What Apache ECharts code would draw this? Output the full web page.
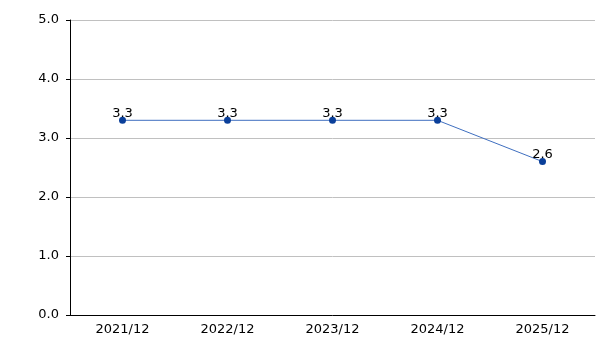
<!DOCTYPE html>
<html><head><meta charset="utf-8">
<script src="https://cdn.jsdelivr.net/npm/echarts@6/dist/echarts.min.js"></script>
<style>html,body{margin:0;padding:0;background:#fff}#c{width:615px;height:345px}</style>
</head><body><div id="c"></div>
<script>
const categories = ['2021/12','2022/12','2023/12','2024/12','2025/12'];
const values = [3.3, 3.3, 3.3, 3.3, 2.6];
const yTicks = [0, 1, 2, 3, 4, 5];
const chart = echarts.init(document.getElementById('c'), null, {renderer:'canvas'});
chart.setOption({
  animation:false,
  backgroundColor:'#fff',
  textStyle:{fontFamily:'DejaVu Sans'},
  grid:{left:70,right:20,top:20,bottom:30,containLabel:false},
  xAxis:{type:'category',data:categories,boundaryGap:true,
    axisLine:{lineStyle:{color:'#000',width:1}},
    axisTick:{alignWithLabel:true,length:4,lineStyle:{color:'#000'}},
    axisLabel:{color:'#000',fontSize:13,margin:8,fontFamily:'DejaVu Sans'},
    splitLine:{show:false}},
  yAxis:{type:'value',min:yTicks[0],max:yTicks[yTicks.length-1],interval:1,
    axisLine:{show:true,lineStyle:{color:'#000',width:1}},
    axisTick:{show:true,length:4,lineStyle:{color:'#000'}},
    axisLabel:{color:'#000',fontSize:13,margin:11,fontFamily:'DejaVu Sans',formatter:v=>v.toFixed(1)},
    splitLine:{show:true,lineStyle:{color:'#c0c0c0',width:1}}},
  series:[{type:'line',data:values,symbol:'circle',symbolSize:7,
    lineStyle:{color:'#3f6fc0',width:1},
    itemStyle:{color:'#0a3f9a'},
    label:{show:true,position:'top',distance:-3,color:'#000',fontSize:13,fontFamily:'DejaVu Sans',formatter:p=>p.value.toFixed(1)}}]
});
</script></body></html>
